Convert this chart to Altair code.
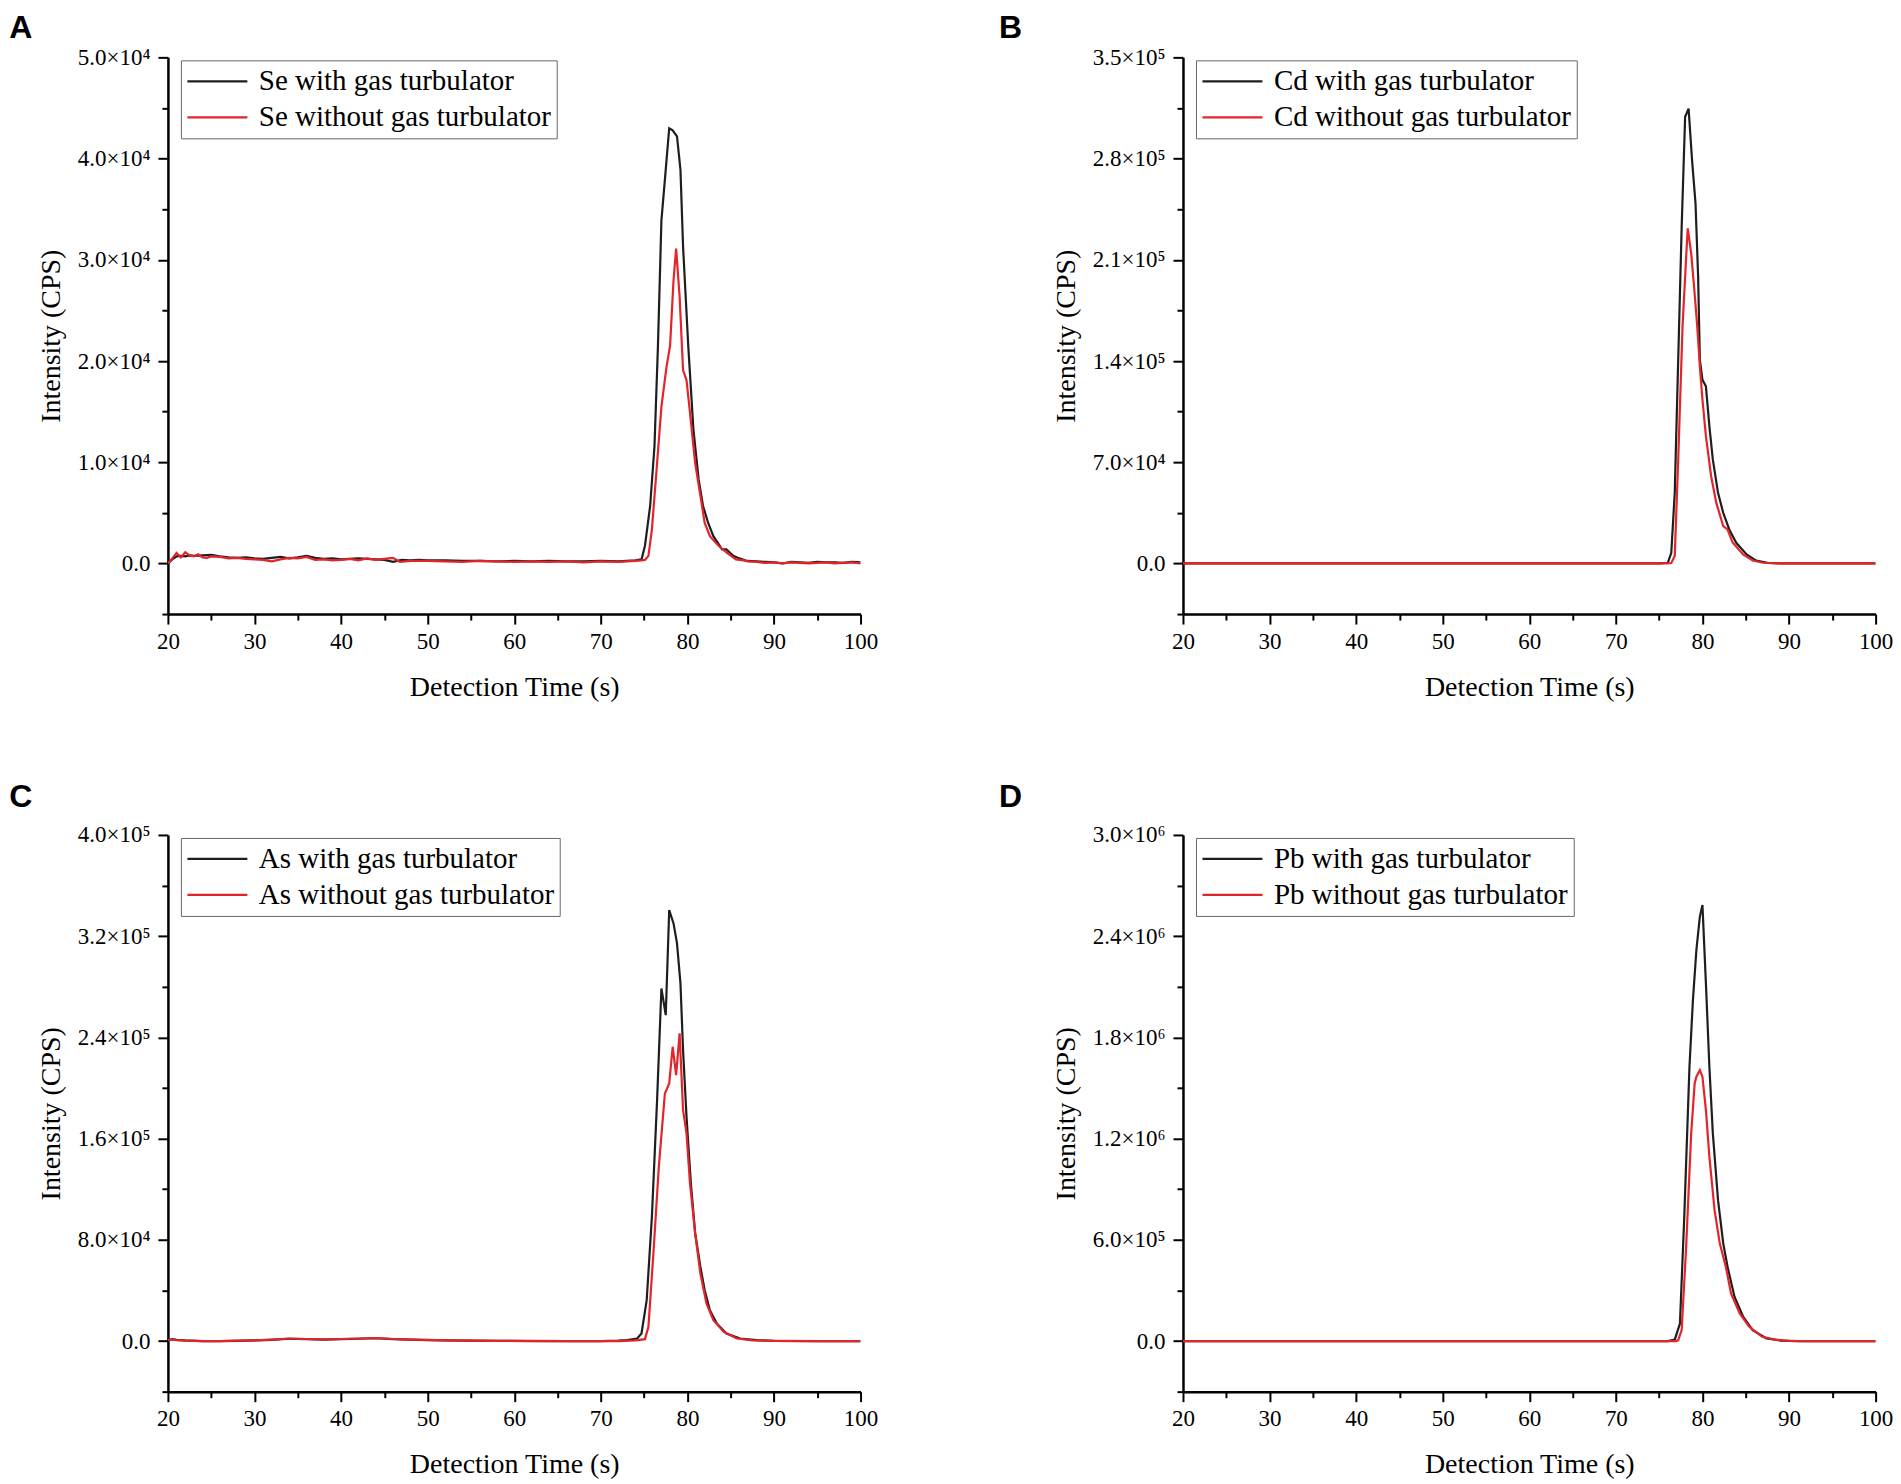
import altair as alt
import pandas as pd

# ---------------- data ----------------
panel_letters = ["A", "B", "C", "D"]
elements = ["Se", "Cd", "As", "Pb"]

x_ticks = [20, 25, 30, 35, 40, 45, 50, 55, 60, 65, 70, 75, 80, 85, 90, 95, 100]

se_ticks = [0, 10000, 20000, 30000, 40000, 50000]
se_labels = ["0.0", "1.0×10⁴", "2.0×10⁴", "3.0×10⁴", "4.0×10⁴", "5.0×10⁴"]
cd_ticks = [0, 70000, 140000, 210000, 280000, 350000]
cd_labels = ["0.0", "7.0×10⁴", "1.4×10⁵", "2.1×10⁵", "2.8×10⁵", "3.5×10⁵"]
as_ticks = [0, 80000, 160000, 240000, 320000, 400000]
as_labels = ["0.0", "8.0×10⁴", "1.6×10⁵", "2.4×10⁵", "3.2×10⁵", "4.0×10⁵"]
pb_ticks = [0, 600000, 1200000, 1800000, 2400000, 3000000]
pb_labels = ["0.0", "6.0×10⁵", "1.2×10⁶", "1.8×10⁶", "2.4×10⁶", "3.0×10⁶"]

se_with = [(20, 0), (20.5, 400), (21, 700), (21.5, 750), (22, 700), (22.5, 800), (23, 750), (24, 800),
           (25, 850), (26, 700), (27, 600), (28, 550), (29, 600), (30, 500), (31, 450), (32, 550),
           (33, 650), (34, 500), (35, 600), (36, 750), (37, 550), (38, 450), (39, 500), (40, 400),
           (41, 450), (42, 500), (43, 450), (44, 400), (45, 350), (46, 150), (47, 350), (48, 300),
           (49, 350), (50, 300), (52, 300), (54, 250), (56, 250), (58, 200), (60, 250), (62, 200),
           (64, 250), (66, 200), (68, 200), (70, 250), (72, 200), (73, 250), (74, 300), (74.7, 400),
           (75.1, 1750), (75.7, 5700), (76.2, 11600), (76.6, 21500), (77.0, 33900), (77.4, 37900),
           (77.9, 43000), (78.3, 42800), (78.8, 42200), (79.2, 38900), (79.5, 31300), (80.1, 21500),
           (80.7, 13200), (81.3, 8300), (81.8, 5700), (82.4, 4000), (83.0, 2700), (83.5, 2050),
           (84.0, 1400), (84.5, 1400), (85.3, 750), (86.0, 500), (86.9, 250), (88, 200), (89, 150),
           (90, 100), (91, 0), (92, 150), (93, 100), (94, 50), (95, 150), (96, 100), (97, 100),
           (98, 50), (99, 150), (100, 100)]
se_without = [(20, 0), (20.5, 500), (21, 1050), (21.5, 600), (22, 1100), (22.5, 800), (23, 700),
              (23.5, 900), (24, 600), (24.5, 550), (25, 700), (26, 650), (27, 500), (28, 550), (29, 450),
              (30, 400), (31, 350), (32, 200), (33, 400), (34, 550), (35, 500), (36, 650), (37, 350),
              (38, 400), (39, 300), (40, 350), (41, 450), (42, 300), (43, 500), (44, 350), (45, 450),
              (46, 550), (46.8, 150), (48, 250), (50, 250), (52, 200), (54, 150), (56, 250), (58, 200),
              (60, 150), (62, 200), (64, 150), (66, 200), (68, 100), (70, 200), (72, 150), (74, 250),
              (74.7, 300), (75.1, 350), (75.5, 750), (75.9, 3350), (76.5, 9900), (77.0, 15500),
              (77.6, 19500), (78.0, 21500), (78.4, 28000), (78.7, 31100), (79.1, 26400), (79.5, 19100),
              (79.9, 18100), (80.3, 14900), (80.9, 9900), (81.5, 6700), (82.0, 4000), (82.6, 2700),
              (83.6, 1750), (84.5, 1100), (85.6, 400), (86.5, 300), (87, 200), (88, 150), (89, 50),
              (90, 100), (91, 0), (92, 100), (93, 50), (94, 0), (95, 50), (96, 100), (97, 0), (98, 50),
              (99, 100), (100, 0)]

cd_with = [(20, 0), (30, 0), (40, 0), (50, 0), (60, 0), (70, 0), (75, 0), (76.0, 500), (76.4, 7400),
           (76.8, 48800), (77.2, 140800), (77.6, 232900), (78.0, 308900), (78.4, 314600),
           (78.8, 278900), (79.2, 249000), (79.5, 198400), (79.7, 140800), (80.0, 127000),
           (80.4, 122500), (80.8, 94900), (81.2, 71800), (81.8, 48800), (82.4, 35000), (83.1, 23500),
           (83.9, 14300), (85.1, 6200), (86.2, 2000), (87.5, 500), (89, 0), (100, 0)]
cd_without = [(20, 0), (30, 0), (40, 0), (50, 0), (60, 0), (70, 0), (76.0, 0), (76.4, 300),
              (76.8, 5100), (77.2, 71800), (77.7, 163900), (78.1, 209900), (78.3, 231800),
              (78.7, 214500), (79.0, 193800), (79.4, 163900), (79.7, 136300), (80.0, 113200),
              (80.4, 88000), (81.0, 60300), (81.6, 41900), (82.4, 25800), (82.9, 23500), (83.5, 14300),
              (84.7, 6200), (85.8, 2000), (87, 500), (88.5, 0), (100, 0)]

as_with = [(20, 500), (20.5, 1500), (21, 1000), (22, 500), (24, 0), (26, 0), (28, 200), (30, 500),
           (32, 1000), (34, 1800), (36, 1500), (38, 1200), (40, 1500), (42, 1800), (44, 2200),
           (46, 1500), (48, 1200), (50, 800), (52, 500), (55, 300), (58, 200), (62, 0), (66, 0),
           (70, 0), (72, 300), (73, 800), (74.2, 2000), (74.7, 6000), (75.3, 32300), (75.9, 98200),
           (76.5, 190400), (77.0, 278700), (77.5, 257600), (77.9, 340600), (78.4, 330100),
           (78.8, 314300), (79.2, 282700), (79.5, 229900), (79.9, 177300), (80.4, 124600),
           (80.9, 85100), (81.5, 58700), (82.0, 40200), (82.6, 24400), (83.4, 13900), (84.5, 6000),
           (86.1, 2000), (88.0, 700), (90, 200), (95, 0), (100, 0)]
as_without = [(20, 800), (20.5, 1200), (21, 800), (22, 300), (24, 0), (26, 0), (28, 300), (30, 600),
              (32, 1200), (34, 2000), (36, 1600), (38, 1300), (40, 1600), (42, 2000), (44, 2400),
              (46, 1600), (48, 1200), (50, 900), (52, 600), (55, 300), (58, 200), (62, 100), (66, 0),
              (70, 0), (72, 0), (74, 500), (75.1, 1500), (75.5, 11300), (76.1, 71900), (76.7, 137800),
              (77.4, 195700), (77.9, 203600), (78.3, 232600), (78.7, 210200), (79.1, 243200),
              (79.5, 182500), (79.9, 164100), (80.3, 124600), (80.9, 85100), (81.5, 53400),
              (82.2, 29700), (83.0, 16500), (84.2, 7300), (85.7, 2000), (87.5, 500), (90, 100),
              (95, 0), (100, 0)]

pb_with = [(20, 0), (40, 0), (60, 0), (76, 0), (76.8, 8000), (77.4, 104000), (77.9, 737000),
           (78.5, 1626000), (78.9, 2021000), (79.3, 2318000), (79.7, 2516000), (80.0, 2585000),
           (80.4, 2120000), (80.8, 1626000), (81.2, 1231000), (81.8, 835000), (82.4, 579000),
           (82.9, 440000), (83.7, 263000), (84.7, 144000), (85.8, 65000), (87.4, 15000), (89, 3000),
           (91, 0), (100, 0)]
pb_without = [(20, 0), (40, 0), (60, 0), (77, 0), (77.2, 5000), (77.6, 65000), (78.1, 539000),
              (78.7, 1231000), (79.1, 1527000), (79.3, 1567000), (79.7, 1606000), (80.0, 1567000),
              (80.4, 1369000), (80.8, 1093000), (81.4, 776000), (82.0, 579000), (82.7, 440000),
              (83.3, 282000), (84.3, 164000), (85.4, 85000), (86.9, 25000), (88.4, 8000), (90, 1000),
              (92, 0), (100, 0)]

series_colors = ["#1e1e1e", "#e3242b"]

# ---------------- styling constants ----------------
PW, PH = 693, 557
SERIF = "Liberation Serif"


def cond_tick(step):
    return {"condition": {"test": f"datum.value % {step} === 0", "value": 10}, "value": 6}


def panel(letter, elem, with_pts, without_pts, ticks, labels, lab_x, lab_y):
    name_with = f"{elem} with gas turbulator"
    name_without = f"{elem} without gas turbulator"
    rows = [{"t": t, "v": v, "series": name_with} for t, v in with_pts]
    rows += [{"t": t, "v": v, "series": name_without} for t, v in without_pts]
    df = pd.DataFrame(rows)

    step = ticks[1] - ticks[0]
    ymin = -step // 2
    minor = [(a + b) // 2 for a, b in zip(ticks[:-1], ticks[1:])] + [ymin]
    yvals = sorted(ticks + minor)
    label_expr = " : ".join(f"datum.value === {v} ? '{s}'" for v, s in zip(ticks, labels)) + " : ''"

    lines = alt.Chart(df).mark_line(strokeWidth=2.2, clip=True).encode(
        x=alt.X("t:Q",
                scale=alt.Scale(domain=[x_ticks[0], x_ticks[-1]], nice=False, zero=False),
                axis=alt.Axis(values=x_ticks,
                              labelExpr="datum.value % 10 === 0 ? format(datum.value, 'd') : ''",
                              tickSize=cond_tick(10), labelPadding=6, titlePadding=20,
                              labelFlush=False, labelOverlap=False,
                              title="Detection Time (s)")),
        y=alt.Y("v:Q",
                scale=alt.Scale(domain=[ymin, ticks[-1]], nice=False, zero=False),
                axis=alt.Axis(values=yvals, labelExpr=label_expr, tickSize=cond_tick(step),
                              labelPadding=8, titlePadding=12, labelOverlap=False,
                              labelFlush=False, title="Intensity (CPS)")),
        color=alt.Color("series:N",
                        scale=alt.Scale(domain=[name_with, name_without], range=series_colors),
                        legend=alt.Legend(orient="none", legendX=13, legendY=3, title=None,
                                          direction="vertical", symbolType="stroke",
                                          symbolSize=3600, symbolStrokeWidth=2.2,
                                          clipHeight=32, rowPadding=4, padding=5,
                                          labelOffset=10, labelFont=SERIF, labelFontSize=29,
                                          labelColor="black", labelLimit=500,
                                          strokeColor="#666666", fillColor="white")),
    )

    lab_df = pd.DataFrame({"letter": [letter]})
    lab = alt.Chart(lab_df).mark_text(align="left", baseline="top", font="Liberation Sans",
                                      fontSize=32, fontWeight="bold", color="black").encode(
        x=alt.value(lab_x), y=alt.value(lab_y), text="letter:N")

    return alt.layer(lines, lab).properties(width=PW, height=PH)


pA = panel(panel_letters[0], elements[0], se_with, se_without, se_ticks, se_labels, -158.7, -44)
pB = panel(panel_letters[1], elements[1], cd_with, cd_without, cd_ticks, cd_labels, -184, -44)
pC = panel(panel_letters[2], elements[2], as_with, as_without, as_ticks, as_labels, -158.7, -53)
pD = panel(panel_letters[3], elements[3], pb_with, pb_without, pb_ticks, pb_labels, -184, -53)

chart = alt.concat(pA, pB, pC, pD, columns=2,
                   spacing={"row": 221, "column": 322.6}).properties(
    bounds="flush",
    padding={"left": 1, "top": 4, "right": 0, "bottom": 0},
).resolve_scale(
    x="independent", y="independent", color="independent"
).configure_view(
    stroke=None
).configure_axis(
    grid=False, domainColor="black", domainWidth=2.5, tickColor="black", tickWidth=2,
    labelFont=SERIF, labelFontSize=23, labelColor="black",
    titleFont=SERIF, titleFontSize=28, titleFontWeight="normal", titleColor="black",
)

chart.save("out.html", embed_options={"renderer": "svg", "actions": False})
